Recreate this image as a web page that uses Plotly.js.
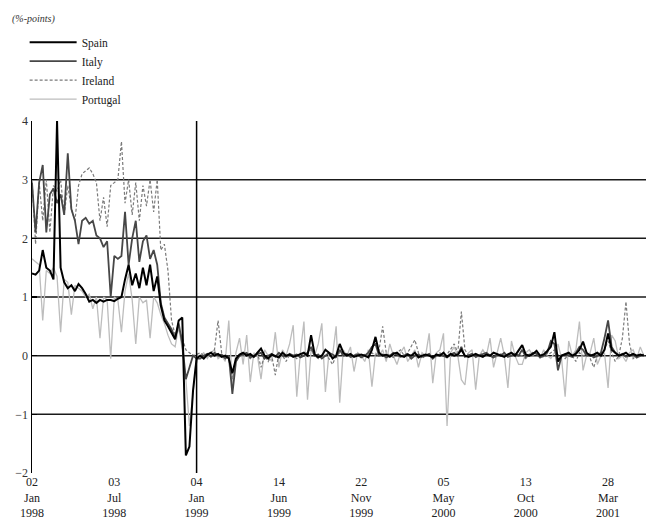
<!DOCTYPE html>
<html>
<head>
<meta charset="utf-8">
<script src="https://cdn.plot.ly/plotly-3.0.1.min.js"></script>
<style>html,body{margin:0;padding:0;background:#fff;}#chart{width:646px;height:525px;}</style>
</head>
<body>
<div id="chart"></div>
<script>
// Observation spacing of the sampled values (trading days)
const OBS_STEP = 5;

const spain = [
 1.40,1.38,1.45,1.80,1.50,1.45,1.30,4.00,1.50,1.25,
 1.15,1.20,1.10,1.22,1.15,1.05,0.92,0.95,0.90,0.95,
 0.92,0.95,0.95,0.93,0.97,1.00,1.30,1.55,1.20,1.40,
 1.15,1.50,1.20,1.55,1.10,1.35,0.85,0.60,0.50,0.38,
 0.28,0.60,0.65,-1.70,-1.55,-0.60,-0.05,
 0.00,-0.05,0.02,0.05,0.00,0.03,-0.02,0.00,-0.05,-0.30,
 -0.05,0.02,0.05,0.00,0.03,-0.02,0.05,0.12,0.00,-0.05,
 0.02,0.00,-0.03,0.05,0.00,0.02,-0.02,0.00,0.03,0.05,
 0.00,0.35,0.02,-0.03,0.00,0.10,0.05,-0.05,0.00,0.20,
 0.05,0.00,0.03,-0.02,0.00,0.02,0.00,-0.03,0.10,0.32,
 0.05,0.00,0.02,-0.02,0.03,0.05,0.00,-0.02,0.02,0.00,
 0.05,-0.03,0.00,0.02,0.00,-0.03,0.02,0.00,0.05,-0.02,
 0.03,0.00,0.02,0.10,0.00,-0.02,0.00,0.03,0.00,-0.02,
 0.02,0.00,0.05,0.03,0.00,-0.02,0.02,0.05,0.00,0.08,
 0.18,0.02,0.00,0.03,0.08,0.00,0.02,0.08,0.15,0.40,
 -0.10,0.00,0.02,0.05,0.00,0.03,0.10,0.24,0.05,0.00,
 0.02,0.05,0.00,0.10,0.38,0.10,0.05,0.00,0.02,0.05,
 0.00,0.03,0.00,0.02,0.00
];

const italy = [
 2.95,2.10,2.95,3.25,2.10,2.75,2.85,2.60,2.75,2.40,
 3.45,2.50,2.30,1.90,2.30,2.35,2.25,2.30,2.05,2.00,
 1.85,1.95,1.00,1.70,1.65,1.70,2.45,1.55,2.00,2.30,
 1.60,1.95,2.05,1.65,1.80,1.55,0.90,0.65,0.55,0.45,
 0.30,0.55,0.20,-0.40,-0.20,0.00,-0.05,
 -0.05,0.00,0.03,-0.02,0.05,0.00,0.02,-0.05,0.00,-0.65,
 -0.10,0.00,0.03,0.05,-0.03,0.00,0.02,0.05,-0.05,0.00,
 0.03,-0.02,0.05,0.00,-0.02,0.03,0.00,0.02,-0.03,0.00,
 0.05,0.15,0.00,0.02,-0.05,0.00,0.05,0.02,-0.02,0.10,
 0.00,0.03,-0.02,0.00,0.02,-0.03,0.00,0.05,0.15,0.20,
 0.00,0.02,-0.03,0.00,0.05,0.02,-0.02,0.00,0.03,-0.05,
 0.00,0.02,-0.02,0.00,0.03,-0.05,0.00,0.02,0.00,-0.03,
 0.02,0.05,0.00,0.15,-0.02,0.00,0.03,-0.02,0.00,0.02,
 0.05,0.00,-0.03,0.02,0.00,0.05,-0.02,0.00,0.03,0.00,
 0.10,-0.02,0.00,0.05,0.03,-0.03,0.00,0.05,0.25,0.20,
 -0.25,0.00,0.02,0.00,-0.02,0.05,0.15,0.10,0.00,0.02,
 -0.03,0.00,0.05,0.30,0.60,0.15,0.05,0.00,0.03,-0.02,
 0.00,0.02,-0.03,0.00,0.02
];

const ireland = [
 3.00,1.90,2.95,2.30,3.00,2.10,2.90,2.80,3.00,2.40,
 2.90,2.50,2.30,2.90,3.10,3.15,3.20,3.10,2.95,2.30,
 2.70,2.20,2.90,2.95,3.00,3.65,2.60,3.00,2.40,2.95,
 2.30,2.90,2.55,3.00,2.45,3.00,1.80,1.90,1.45,0.60,
 0.35,0.45,0.30,0.10,0.05,0.00,0.02,
 0.05,0.00,0.02,0.05,0.10,0.60,0.05,-0.05,0.00,-0.40,
 -0.10,0.00,0.05,0.02,-0.05,0.00,0.05,-0.20,0.00,-0.10,
 0.00,-0.33,0.05,0.00,-0.10,0.02,0.00,-0.05,0.03,0.00,
 0.05,0.10,0.00,-0.05,0.02,0.00,-0.05,-0.15,0.00,0.05,
 0.00,0.02,-0.03,0.00,0.05,0.00,0.02,0.00,0.05,0.00,
 0.10,0.50,0.05,0.00,-0.03,0.05,0.10,0.00,0.05,0.15,
 0.27,0.05,-0.05,0.00,0.02,-0.03,0.00,0.05,0.00,0.02,
 0.10,0.20,0.05,0.75,0.10,0.00,0.02,-0.03,0.00,0.05,
 0.00,0.02,-0.05,0.00,0.03,0.00,-0.02,0.05,0.00,0.02,
 0.00,-0.05,0.03,0.00,0.02,0.00,-0.03,0.00,0.05,0.10,
 0.02,0.00,-0.05,0.02,0.00,-0.10,0.05,0.00,0.02,-0.05,
 -0.20,0.00,0.05,0.10,0.25,0.05,-0.10,0.00,0.30,0.92,
 0.20,-0.05,0.00,0.02,0.00
];

const portugal = [
 1.65,1.60,1.55,0.60,1.45,1.40,1.50,1.35,0.40,1.30,
 1.25,0.70,1.20,1.15,1.10,1.00,1.05,0.80,1.00,0.30,
 1.00,0.95,-0.05,1.00,0.95,0.40,1.10,1.40,0.95,0.20,
 1.00,0.90,0.95,0.30,1.00,0.90,0.70,0.55,0.35,0.20,
 0.15,0.50,0.10,-0.40,-1.20,-0.65,0.00,
 0.00,0.05,-0.05,0.05,0.10,-0.05,0.00,-0.10,0.60,-0.50,
 0.05,0.30,-0.15,0.35,-0.45,0.05,0.00,-0.40,0.10,0.00,
 -0.10,0.40,-0.20,0.10,0.00,0.20,0.52,-0.70,0.05,0.58,
 -0.75,0.10,0.00,0.20,0.55,-0.62,0.05,0.00,0.50,-0.80,
 0.10,0.00,0.15,-0.27,0.05,0.00,-0.10,0.10,-0.53,0.05,
 0.00,0.10,-0.10,0.20,0.00,-0.15,0.05,0.15,-0.10,0.00,
 0.10,-0.20,0.05,0.00,0.38,-0.47,0.05,0.10,0.38,-1.20,
 0.05,0.15,0.00,-0.41,-0.50,0.05,0.10,-0.58,0.00,0.10,
 0.00,0.30,-0.20,0.05,0.30,0.00,-0.55,0.25,0.00,-0.15,
 -0.15,0.05,0.10,0.00,0.10,-0.05,0.10,0.00,-0.05,0.05,
 0.20,-0.05,-0.70,0.25,0.00,0.10,0.58,-0.25,0.00,0.05,
 0.30,-0.15,0.00,0.05,-0.55,0.35,0.25,-0.05,0.00,-0.10,
 0.05,0.10,-0.05,0.15,0.00
];

// Tick labels (observation number of each labelled date)
const tickObs    = [0, 115, 230, 345, 460, 575, 690, 805];
const tickDays   = ['02','03','04','14','22','05','13','28'];
const tickMonths = ['Jan','Jul','Jan','Jun','Nov','May','Oct','Mar'];
const tickYears  = ['1998','1998','1999','1999','1999','2000','2000','2001'];
const yTicks = [-2, -1, 0, 1, 2, 3, 4];
const gridLevels = [-1, 0, 1, 2, 3];
const euroStartObs = 230; // 04 Jan 1999

const obs = arr => arr.map((_, i) => i * OBS_STEP);
const FONT = 'Liberation Serif, Times New Roman, serif';

const traces = [
  {name: 'Portugal', x: obs(portugal), y: portugal, mode: 'lines', legendrank: 4,
   line: {color: '#bdbdbd', width: 1.3}},
  {name: 'Ireland', x: obs(ireland), y: ireland, mode: 'lines', legendrank: 3,
   line: {color: '#7a7a7a', width: 1.2, dash: '3px,2px'}},
  {name: 'Italy', x: obs(italy), y: italy, mode: 'lines', legendrank: 2,
   line: {color: '#474747', width: 1.8}},
  {name: 'Spain', x: obs(spain), y: spain, mode: 'lines', legendrank: 1,
   line: {color: '#000000', width: 2}}
];

const shapes = gridLevels.map(v => ({
  type: 'line', xref: 'paper', yref: 'y', x0: 0, x1: 1, y0: v, y1: v,
  line: {color: '#1a1a1a', width: 1.5}, layer: 'below'
}));
shapes.push({type: 'line', xref: 'x', yref: 'y', x0: euroStartObs, x1: euroStartObs,
  y0: -2, y1: 4, line: {color: '#000', width: 1.5}});

const layout = {
  width: 646, height: 525,
  margin: {l: 32, r: 0, t: 121, b: 52},
  paper_bgcolor: '#fff', plot_bgcolor: '#fff',
  font: {family: FONT, size: 12, color: '#222'},
  showlegend: true,
  legend: {x: -0.012, xanchor: 'left', y: 1.265, yanchor: 'top',
    font: {family: FONT, size: 11.5, color: '#222'}, itemwidth: 47,
    bgcolor: 'rgba(0,0,0,0)', tracegroupgap: 0},
  xaxis: {range: [0, 858], showgrid: false, zeroline: false, showline: false,
    tickmode: 'array', tickvals: tickObs,
    ticktext: tickObs.map((_, i) => tickDays[i] + '<br>' + tickMonths[i] + '<br>' + tickYears[i]),
    ticks: '', tickfont: {family: FONT, size: 12, color: '#222'}, fixedrange: true},
  yaxis: {range: [-2, 4], tickmode: 'array', tickvals: yTicks, showgrid: false,
    zeroline: false, showline: true, linecolor: '#000', linewidth: 1.5,
    ticks: 'inside', ticklen: 5, tickcolor: '#000', tickwidth: 1.5,
    tickfont: {family: FONT, size: 12, color: '#333'}, fixedrange: true},
  shapes: shapes,
  annotations: [{text: '<i>(%-points)</i>', xref: 'paper', yref: 'paper',
    x: -0.036, xanchor: 'left', y: 1.29, yanchor: 'middle', showarrow: false,
    font: {family: FONT, size: 10, color: '#333'}}]
};

Plotly.newPlot('chart', traces, layout, {displayModeBar: false, staticPlot: true});
</script>
</body>
</html>
